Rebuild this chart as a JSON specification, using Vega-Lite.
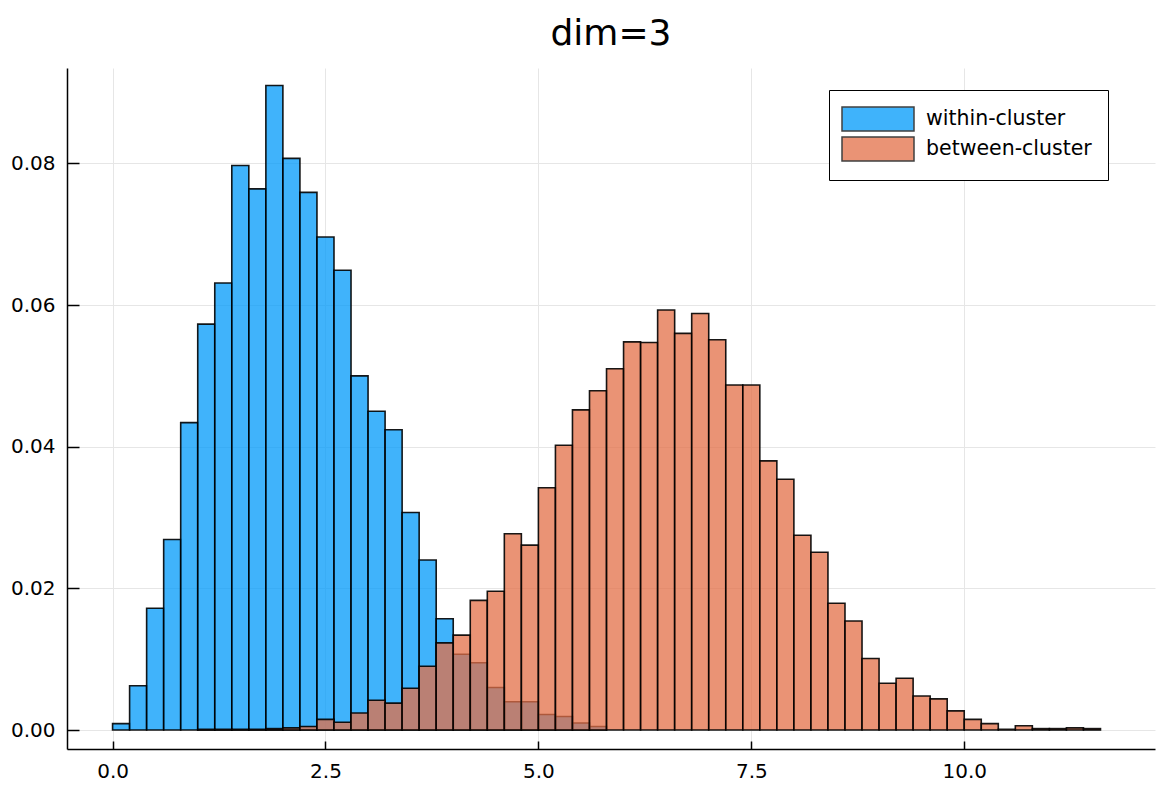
{
  "$schema": "https://vega.github.io/schema/vega-lite/v6.json",
  "width": 1088,
  "height": 681,
  "autosize": "none",
  "padding": {"left": 67, "top": 68, "right": 3, "bottom": 36},
  "background": "white",
  "title": {"text": "dim=3", "font": "DejaVu Sans", "fontSize": 36, "fontWeight": "normal", "color": "black", "anchor": "middle", "baseline": "alphabetic", "offset": -13},
  "config": {
    "view": {"stroke": null},
    "axis": {"labelFont": "DejaVu Sans", "labelFontSize": 20, "labelColor": "black", "domainColor": "black", "domainWidth": 1.5, "tickColor": "black", "tickWidth": 1.5, "gridColor": "#e6e6e6", "gridWidth": 1, "title": null}
  },
  "data": {"values": [
    {"group": "within-cluster", "start": 0.0, "end": 0.2, "density": 0.0009},
    {"group": "within-cluster", "start": 0.2, "end": 0.4, "density": 0.00625},
    {"group": "within-cluster", "start": 0.4, "end": 0.6, "density": 0.0172},
    {"group": "within-cluster", "start": 0.6, "end": 0.8, "density": 0.0269},
    {"group": "within-cluster", "start": 0.8, "end": 1.0, "density": 0.0434},
    {"group": "within-cluster", "start": 1.0, "end": 1.2, "density": 0.0573},
    {"group": "within-cluster", "start": 1.2, "end": 1.4, "density": 0.0631},
    {"group": "within-cluster", "start": 1.4, "end": 1.6, "density": 0.0797},
    {"group": "within-cluster", "start": 1.6, "end": 1.8, "density": 0.0764},
    {"group": "within-cluster", "start": 1.8, "end": 2.0, "density": 0.0910},
    {"group": "within-cluster", "start": 2.0, "end": 2.2, "density": 0.0807},
    {"group": "within-cluster", "start": 2.2, "end": 2.4, "density": 0.0759},
    {"group": "within-cluster", "start": 2.4, "end": 2.6, "density": 0.0696},
    {"group": "within-cluster", "start": 2.6, "end": 2.8, "density": 0.0649},
    {"group": "within-cluster", "start": 2.8, "end": 3.0, "density": 0.0500},
    {"group": "within-cluster", "start": 3.0, "end": 3.2, "density": 0.0450},
    {"group": "within-cluster", "start": 3.2, "end": 3.4, "density": 0.0424},
    {"group": "within-cluster", "start": 3.4, "end": 3.6, "density": 0.0307},
    {"group": "within-cluster", "start": 3.6, "end": 3.8, "density": 0.0240},
    {"group": "within-cluster", "start": 3.8, "end": 4.0, "density": 0.0157},
    {"group": "within-cluster", "start": 4.0, "end": 4.2, "density": 0.0107},
    {"group": "within-cluster", "start": 4.2, "end": 4.4, "density": 0.0095},
    {"group": "within-cluster", "start": 4.4, "end": 4.6, "density": 0.0060},
    {"group": "within-cluster", "start": 4.6, "end": 4.8, "density": 0.0040},
    {"group": "within-cluster", "start": 4.8, "end": 5.0, "density": 0.0040},
    {"group": "within-cluster", "start": 5.0, "end": 5.2, "density": 0.0022},
    {"group": "within-cluster", "start": 5.2, "end": 5.4, "density": 0.0019},
    {"group": "within-cluster", "start": 5.4, "end": 5.6, "density": 0.0010},
    {"group": "within-cluster", "start": 5.6, "end": 5.8, "density": 0.0005},
    {"group": "between-cluster", "start": 1.0, "end": 1.2, "density": 0.0001},
    {"group": "between-cluster", "start": 1.2, "end": 1.4, "density": 0.0001},
    {"group": "between-cluster", "start": 1.4, "end": 1.6, "density": 0.0001},
    {"group": "between-cluster", "start": 1.6, "end": 1.8, "density": 0.0001},
    {"group": "between-cluster", "start": 1.8, "end": 2.0, "density": 0.0002},
    {"group": "between-cluster", "start": 2.0, "end": 2.2, "density": 0.0003},
    {"group": "between-cluster", "start": 2.2, "end": 2.4, "density": 0.0005},
    {"group": "between-cluster", "start": 2.4, "end": 2.6, "density": 0.0015},
    {"group": "between-cluster", "start": 2.6, "end": 2.8, "density": 0.0011},
    {"group": "between-cluster", "start": 2.8, "end": 3.0, "density": 0.0024},
    {"group": "between-cluster", "start": 3.0, "end": 3.2, "density": 0.0042},
    {"group": "between-cluster", "start": 3.2, "end": 3.4, "density": 0.0038},
    {"group": "between-cluster", "start": 3.4, "end": 3.6, "density": 0.0059},
    {"group": "between-cluster", "start": 3.6, "end": 3.8, "density": 0.0090},
    {"group": "between-cluster", "start": 3.8, "end": 4.0, "density": 0.0123},
    {"group": "between-cluster", "start": 4.0, "end": 4.2, "density": 0.0134},
    {"group": "between-cluster", "start": 4.2, "end": 4.4, "density": 0.0183},
    {"group": "between-cluster", "start": 4.4, "end": 4.6, "density": 0.0196},
    {"group": "between-cluster", "start": 4.6, "end": 4.8, "density": 0.0277},
    {"group": "between-cluster", "start": 4.8, "end": 5.0, "density": 0.0261},
    {"group": "between-cluster", "start": 5.0, "end": 5.2, "density": 0.0342},
    {"group": "between-cluster", "start": 5.2, "end": 5.4, "density": 0.0402},
    {"group": "between-cluster", "start": 5.4, "end": 5.6, "density": 0.0452},
    {"group": "between-cluster", "start": 5.6, "end": 5.8, "density": 0.0479},
    {"group": "between-cluster", "start": 5.8, "end": 6.0, "density": 0.0510},
    {"group": "between-cluster", "start": 6.0, "end": 6.2, "density": 0.0548},
    {"group": "between-cluster", "start": 6.2, "end": 6.4, "density": 0.0547},
    {"group": "between-cluster", "start": 6.4, "end": 6.6, "density": 0.0593},
    {"group": "between-cluster", "start": 6.6, "end": 6.8, "density": 0.0560},
    {"group": "between-cluster", "start": 6.8, "end": 7.0, "density": 0.0588},
    {"group": "between-cluster", "start": 7.0, "end": 7.2, "density": 0.0551},
    {"group": "between-cluster", "start": 7.2, "end": 7.4, "density": 0.0487},
    {"group": "between-cluster", "start": 7.4, "end": 7.6, "density": 0.0487},
    {"group": "between-cluster", "start": 7.6, "end": 7.8, "density": 0.0380},
    {"group": "between-cluster", "start": 7.8, "end": 8.0, "density": 0.0354},
    {"group": "between-cluster", "start": 8.0, "end": 8.2, "density": 0.0275},
    {"group": "between-cluster", "start": 8.2, "end": 8.4, "density": 0.0251},
    {"group": "between-cluster", "start": 8.4, "end": 8.6, "density": 0.0179},
    {"group": "between-cluster", "start": 8.6, "end": 8.8, "density": 0.0154},
    {"group": "between-cluster", "start": 8.8, "end": 9.0, "density": 0.0101},
    {"group": "between-cluster", "start": 9.0, "end": 9.2, "density": 0.0066},
    {"group": "between-cluster", "start": 9.2, "end": 9.4, "density": 0.0073},
    {"group": "between-cluster", "start": 9.4, "end": 9.6, "density": 0.0048},
    {"group": "between-cluster", "start": 9.6, "end": 9.8, "density": 0.0044},
    {"group": "between-cluster", "start": 9.8, "end": 10.0, "density": 0.0027},
    {"group": "between-cluster", "start": 10.0, "end": 10.2, "density": 0.0015},
    {"group": "between-cluster", "start": 10.2, "end": 10.4, "density": 0.0009},
    {"group": "between-cluster", "start": 10.4, "end": 10.6, "density": 0.0001},
    {"group": "between-cluster", "start": 10.6, "end": 10.8, "density": 0.0006},
    {"group": "between-cluster", "start": 10.8, "end": 11.0, "density": 0.0002},
    {"group": "between-cluster", "start": 11.0, "end": 11.2, "density": 0.0002},
    {"group": "between-cluster", "start": 11.2, "end": 11.4, "density": 0.0003},
    {"group": "between-cluster", "start": 11.4, "end": 11.6, "density": 0.0002}
  ]},
  "mark": {"type": "rect", "fillOpacity": 0.75, "stroke": "black", "strokeOpacity": 0.9, "strokeWidth": 1.6},
  "encoding": {
    "x": {"field": "start", "type": "quantitative", "scale": {"domain": [-0.535, 12.24], "nice": false, "zero": false},
      "axis": {"values": [0, 2.5, 5, 7.5, 10], "format": ".1f", "tickSize": -8, "labelPadding": 20, "grid": true}},
    "x2": {"field": "end"},
    "y": {"field": "density", "type": "quantitative", "scale": {"domain": [-0.00268, 0.09346], "nice": false, "zero": false},
      "axis": {"values": [0, 0.02, 0.04, 0.06, 0.08], "format": ".2f", "tickSize": -12, "labelPadding": 24, "grid": true}},
    "y2": {"datum": 0},
    "color": {"field": "group", "type": "nominal",
      "scale": {"domain": ["within-cluster", "between-cluster"], "range": ["#009AFA", "#E36F47"]},
      "legend": {"title": null, "orient": "none", "legendX": 762, "legendY": 22, "direction": "vertical",
        "symbolType": "M-3,-1H3V1H-3Z", "symbolSize": 576, "symbolOffset": 20, "symbolOpacity": 0.75, "symbolStrokeColor": "black", "symbolStrokeWidth": 1.5,
        "labelFont": "DejaVu Sans", "labelFontSize": 20.5, "labelColor": "black", "labelOffset": 35, "rowPadding": 0,
        "padding": 16, "strokeColor": "black", "fillColor": "white", "labelLimit": 400}
    },
    "order": {"field": "group", "sort": "descending"}
  }
}
